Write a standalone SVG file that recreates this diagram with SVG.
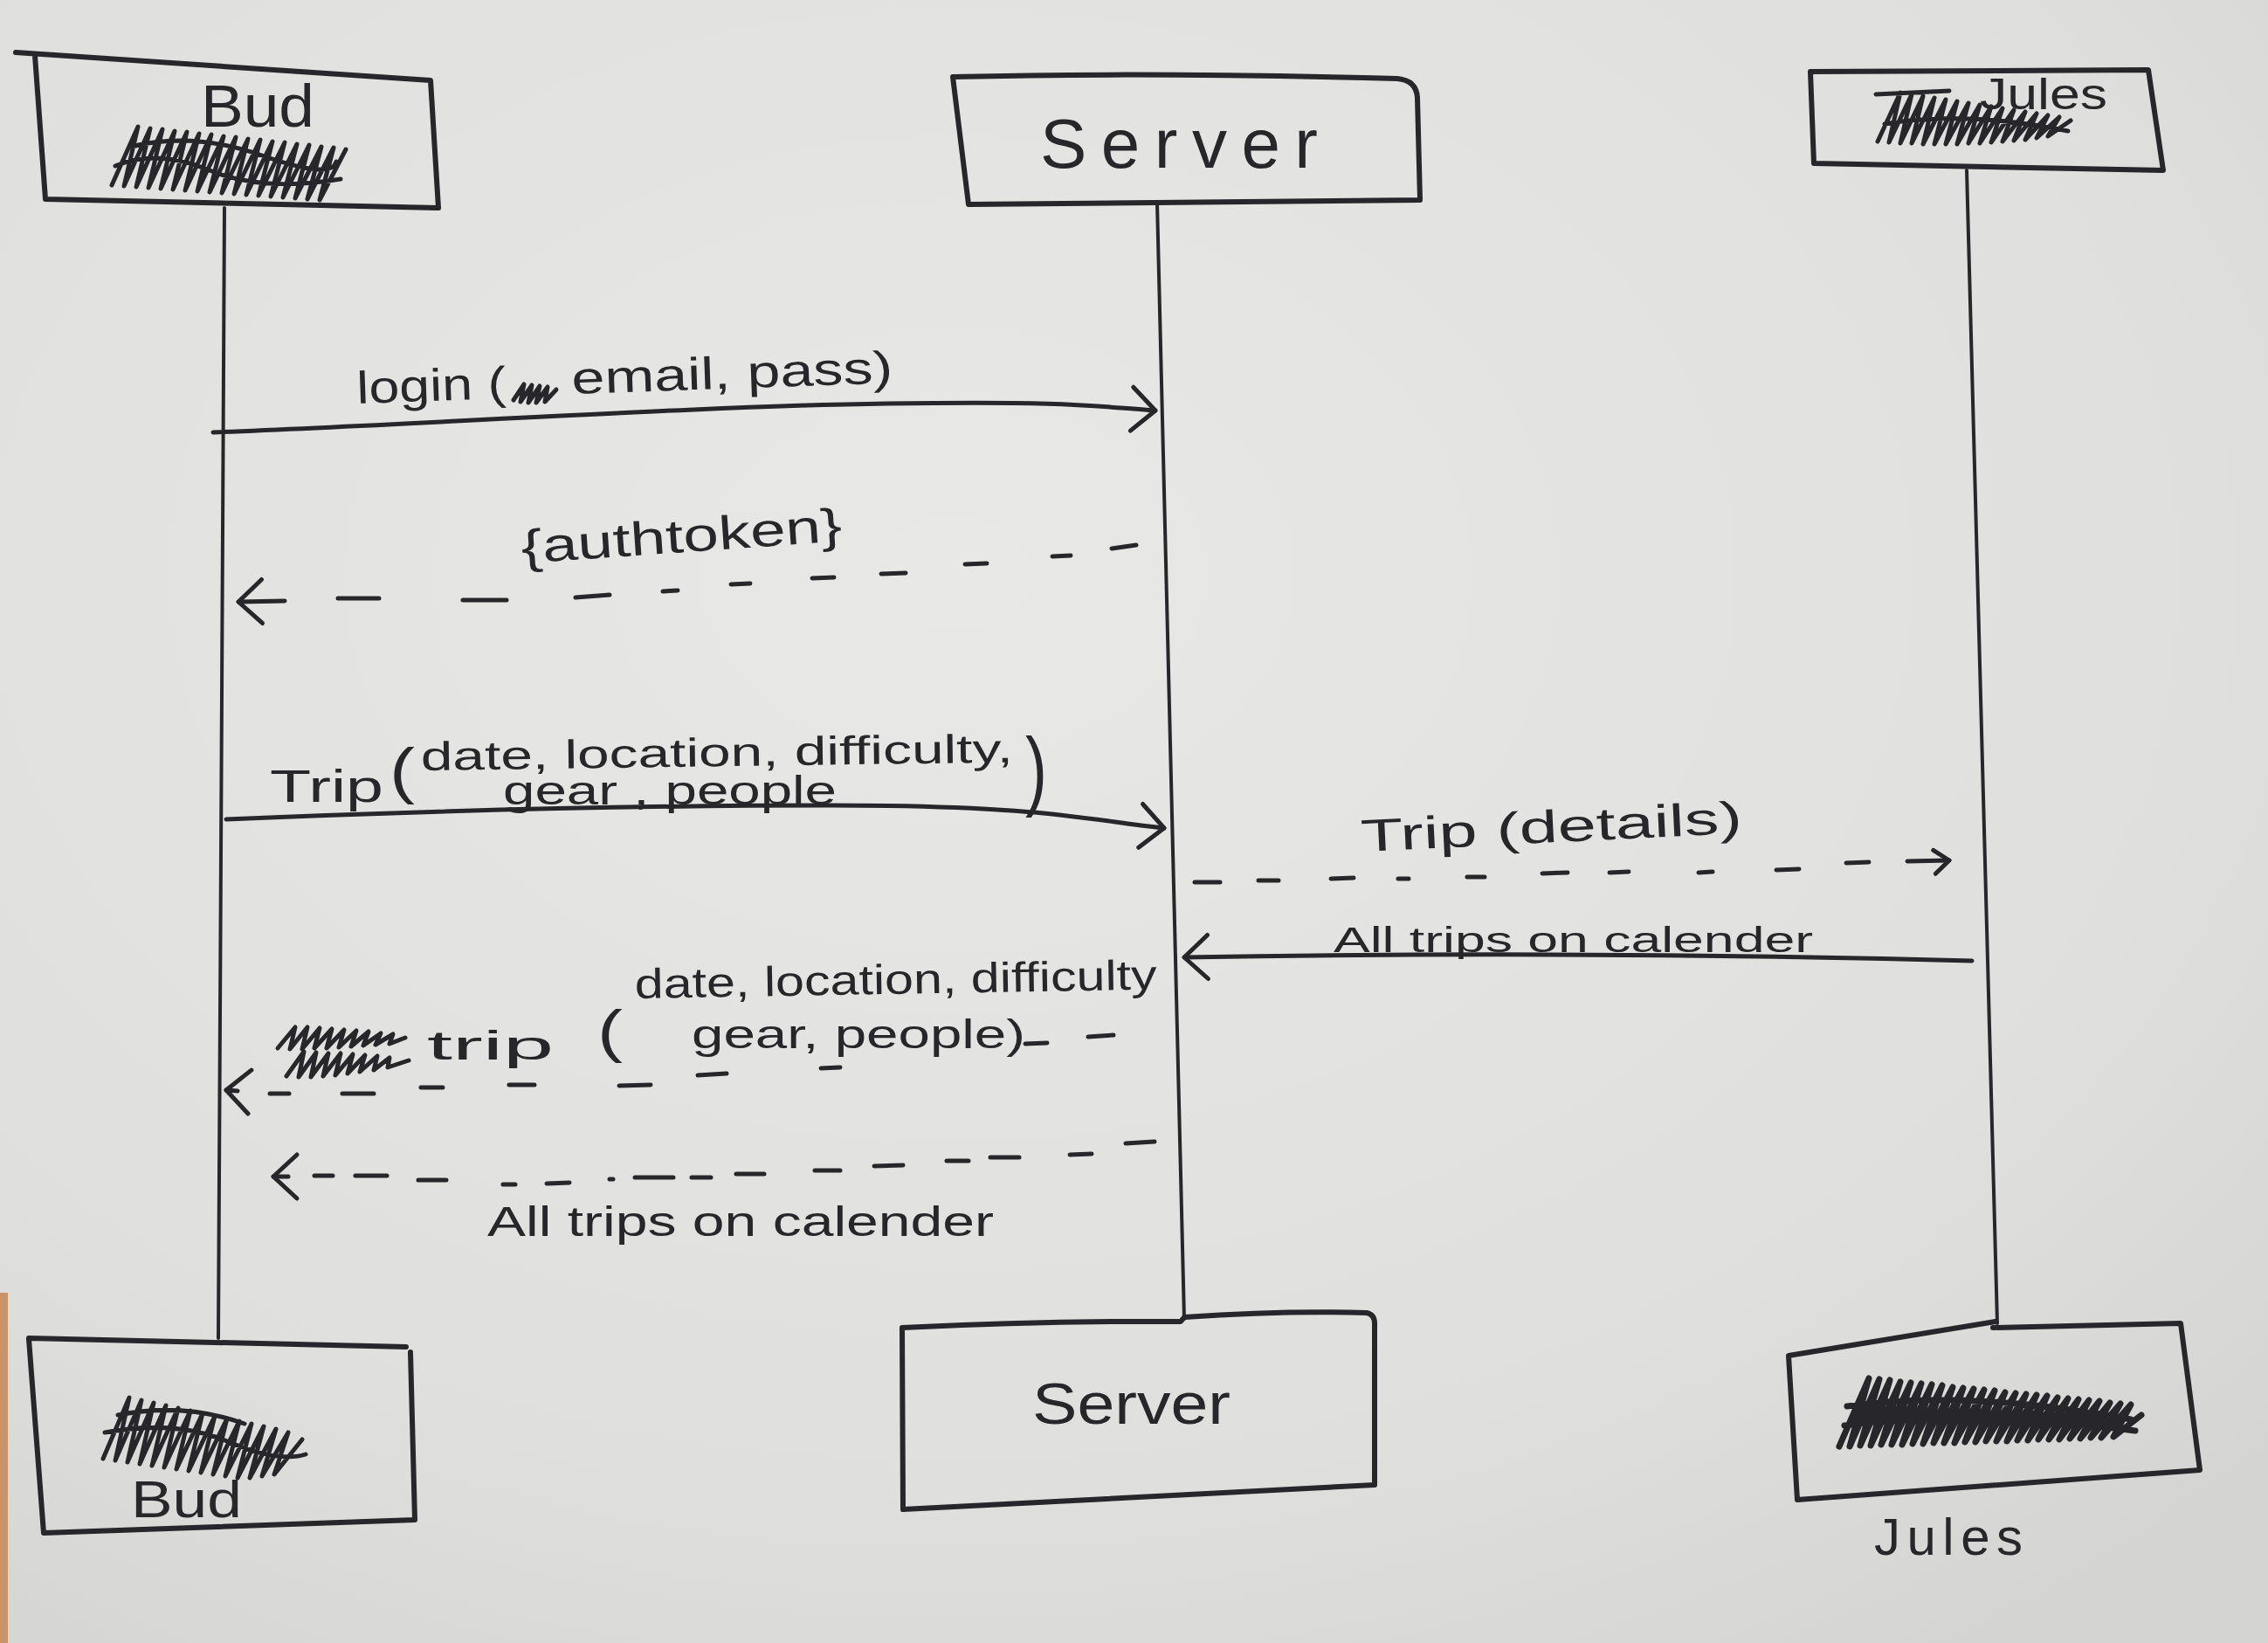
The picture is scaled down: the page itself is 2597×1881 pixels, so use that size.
<svg xmlns="http://www.w3.org/2000/svg" width="2597" height="1881" viewBox="0 0 2597 1881">
<style>
.ink{fill:none;stroke:#27272b;stroke-linecap:round;stroke-linejoin:round}
.box{stroke-width:6}
.life{stroke-width:4}
.conn{stroke-width:5}
.scr{stroke-width:5}
.scr2{stroke-width:7}
.hw{font-family:"Liberation Sans",Arial,sans-serif;fill:#27272b}
</style>
<defs>
<radialGradient id="paper" cx="0.42" cy="0.35" r="0.8">
<stop offset="0" stop-color="#e8e8e6"/>
<stop offset="0.7" stop-color="#dfdfdd"/>
<stop offset="1" stop-color="#d4d4d2"/>
</radialGradient>
<marker id="arr" markerUnits="userSpaceOnUse" markerWidth="70" markerHeight="70" viewBox="-35 -35 70 70" refX="0" refY="0" orient="auto-start-reverse" overflow="visible">
<path d="M-27,-25 L0,0 L-27,25" fill="none" stroke="#27272b" stroke-width="5" stroke-linecap="round" stroke-linejoin="round"/>
</marker>
<marker id="arrSm" markerUnits="userSpaceOnUse" markerWidth="50" markerHeight="50" viewBox="-25 -25 50 50" refX="0" refY="0" orient="auto" overflow="visible">
<path d="M-18,-12 L0,0 L-16,15" fill="none" stroke="#27272b" stroke-width="5" stroke-linecap="round" stroke-linejoin="round"/>
</marker>
</defs>
<rect x="0" y="0" width="2597" height="1881" fill="url(#paper)"/>
<rect x="0" y="1480" width="9" height="401" fill="#c9936b"/>

<g id="connectors">
<path class="ink life" d="M257,238 L250,1532"/>
<path class="ink life" d="M1325,232 L1356,1510"/>
<path class="ink life" d="M2252,195 L2287,1515"/>
<path id="c-login" class="ink conn" d="M244,495 C500,485 800,465 1016,462 S1250,465 1323,470" marker-end="url(#arr)"/>
<path id="c-auth" class="ink conn" d="M273,689 L326,688 M387,685 L434,685 M530,687 L580,687 M659,684 L698,681 M759,677 L776,676 M837,669 L859,668 M930,662 L955,661 M1009,657 L1037,656 M1105,646 L1130,645 M1205,637 L1226,636 M1273,628 L1301,624" marker-start="url(#arr)"/>
<path id="c-trip" class="ink conn" d="M259,938 C450,930 700,922 951,922 S1250,940 1333,948" marker-end="url(#arr)"/>
<path id="c-details" class="ink conn" d="M1368,1010 L1397,1010 M1441,1008 L1464,1008 M1524,1006 L1550,1005 M1601,1006 L1613,1006 M1680,1004 L1700,1004 M1766,1000 L1795,999 M1843,999 L1865,998 M1945,999 L1961,998 M2034,996 L2060,995 M2114,988 L2140,987 M2184,986 L2232,985" marker-end="url(#arrSm)"/>
<path id="c-alltrips-j" class="ink conn" d="M2258,1100 Q1800,1088 1356,1096" marker-end="url(#arr)"/>
<path id="c-trip-back" class="ink conn" d="M259,1248 L272,1249 M309,1252 L331,1252 M392,1252 L428,1252 M482,1245 L507,1245 M583,1242 L612,1242 M709,1243 L745,1242 M799,1231 L832,1229 M940,1223 L962,1222 M1174,1195 L1199,1194 M1246,1187 L1275,1185" marker-start="url(#arr)"/>
<path id="c-alltrips-b" class="ink conn" d="M313,1347 L330,1347 M360,1346 L381,1346 M407,1346 L443,1346 M479,1351 L511,1351 M576,1356 L590,1356 M626,1355 L652,1354 M698,1350 L702,1350 M727,1348 L771,1348 M792,1348 L814,1348 M843,1344 L875,1344 M933,1340 L962,1340 M1001,1335 L1034,1334 M1084,1329 L1109,1329 M1134,1325 L1167,1325 M1225,1322 L1250,1321 M1289,1309 L1322,1307" marker-start="url(#arr)"/>

<g id="l-login">
<text class="hw" x="409" y="462" font-size="52" textLength="171" lengthAdjust="spacingAndGlyphs" transform="rotate(-2 409 462)">login (</text>
<path class="ink scr" d="M588,458 L600,440 L596,460 L609,441 L605,461 L618,442 L614,461 L627,443 L624,460 L637,446"/>
<text class="hw" x="655" y="451" font-size="52" textLength="368" lengthAdjust="spacingAndGlyphs" transform="rotate(-2 655 451)">email, pass)</text>
</g>
<text class="hw" x="598" y="645" font-size="54" textLength="368" lengthAdjust="spacingAndGlyphs" transform="rotate(-4 598 645)">{authtoken}</text>
<g id="l-trip">
<text class="hw" x="309" y="918" font-size="52" textLength="130" lengthAdjust="spacingAndGlyphs">Trip</text>
<text class="hw" x="446" y="906" font-size="70" textLength="29" lengthAdjust="spacingAndGlyphs">(</text>
<text class="hw" x="482" y="882" font-size="46" textLength="678" lengthAdjust="spacingAndGlyphs" transform="rotate(-0.8 482 882)">date, location, difficulty,</text>
<text class="hw" x="576" y="921" font-size="46" textLength="382" lengthAdjust="spacingAndGlyphs">gear , people</text>
<text class="hw" x="1174" y="915" font-size="100" textLength="25" lengthAdjust="spacingAndGlyphs">)</text>
</g>
<text class="hw" x="1559" y="975" font-size="52" textLength="437" lengthAdjust="spacingAndGlyphs" transform="rotate(-2.8 1559 975)">Trip (details)</text>
<text class="hw" x="1527" y="1090" font-size="40" textLength="549" lengthAdjust="spacingAndGlyphs">All trips on calender</text>
<g id="l-trip-back">
<path class="ink scr" d="M318,1200 L338,1176 L332,1201 L352,1176 L346,1201 L366,1177 L360,1200 L380,1178 L374,1200 L394,1179 L388,1199 L408,1180 L402,1198 L422,1181 L416,1197 L436,1183 L430,1196 L450,1184 L446,1195 L464,1188 M328,1232 L348,1204 L342,1233 L362,1205 L356,1233 L376,1206 L370,1232 L390,1206 L384,1231 L404,1207 L398,1229 L418,1208 L412,1227 L432,1209 L428,1225 L446,1211 L444,1222 L468,1214"/>
<text class="hw" x="489" y="1213" font-size="46" textLength="145" lengthAdjust="spacingAndGlyphs">trip</text>
<text class="hw" x="684" y="1203" font-size="66" textLength="29" lengthAdjust="spacingAndGlyphs">(</text>
<text class="hw" x="727" y="1143" font-size="48" textLength="598" lengthAdjust="spacingAndGlyphs" transform="rotate(-1 727 1143)">date, location, difficulty</text>
<text class="hw" x="792" y="1200" font-size="46" textLength="382" lengthAdjust="spacingAndGlyphs">gear, people)</text>
</g>
<text class="hw" x="558" y="1415" font-size="48" textLength="580" lengthAdjust="spacingAndGlyphs">All trips on calender</text>
</g>

<g id="node-bud-top">
<path class="ink box" d="M18,60 C120,66 300,78 493,92 L502,238 L52,228 L40,64"/>
<text class="hw" x="230" y="145" font-size="68" textLength="130" lengthAdjust="spacingAndGlyphs">Bud</text>
<path class="ink scr" d="M128,212 L158,145 L142,213 L172,147 L156,214 L186,148 L170,215 L200,150 L184,216 L214,151 L198,217 L228,153 L212,218 L242,154 L226,219 L256,156 L240,220 L270,157 L254,221 L284,159 L268,222 L298,160 L282,223 L312,162 L296,224 L326,163 L310,225 L340,165 L324,226 L354,166 L338,227 L368,168 L352,228 L382,169 L366,229 L396,171 M132,190 Q180,170 240,195 T390,205 M150,168 Q220,150 300,178 T385,185"/>
</g>
<g id="node-server-top">
<path class="ink box" d="M1091,88 C1250,84 1450,86 1600,90 Q1622,92 1623,112 L1626,229 L1109,234 Z"/>
<text class="hw" x="1191" y="192" font-size="80" textLength="318" lengthAdjust="spacing">Server</text>
</g>
<g id="node-jules-top">
<path class="ink box" d="M2073,82 L2460,80 L2477,195 L2077,187 Z"/>
<text class="hw" x="2267" y="125" font-size="50" textLength="146" lengthAdjust="spacingAndGlyphs">Jules</text>
<path class="ink scr" d="M2148,108 L2232,104 M2150,162 L2176,106 L2163,163 L2189,108 L2176,164 L2202,110 L2189,164 L2215,112 L2202,165 L2228,114 L2215,165 L2241,116 L2228,165 L2254,118 L2241,165 L2267,120 L2254,164 L2280,122 L2267,164 L2293,124 L2280,163 L2306,126 L2293,162 L2319,128 L2306,161 L2332,130 L2319,160 L2345,132 L2332,158 L2358,134 L2345,156 L2371,138 M2158,142 Q2250,126 2368,150"/>
</g>
<g id="node-bud-bottom">
<path class="ink box" d="M33,1532 L465,1542 M470,1548 L475,1740 L50,1755 L33,1533"/>
<path class="ink scr" d="M118,1670 L148,1600 L132,1672 L162,1603 L146,1674 L176,1606 L160,1676 L190,1609 L174,1678 L204,1612 L188,1680 L218,1615 L202,1682 L232,1618 L216,1684 L246,1621 L230,1686 L260,1624 L244,1688 L274,1627 L258,1690 L288,1630 L272,1692 L302,1633 L286,1692 L316,1636 L300,1690 L330,1640 L314,1688 L346,1648 M120,1640 Q200,1625 260,1650 T350,1665 M135,1620 Q210,1605 280,1630"/>
<text class="hw" x="150" y="1737" font-size="60" textLength="127" lengthAdjust="spacingAndGlyphs">Bud</text>
</g>
<g id="node-server-bottom">
<path class="ink box" d="M1033,1520 Q1200,1512 1352,1513 L1356,1508 Q1470,1500 1565,1503 Q1574,1505 1574,1515 L1574,1700 L1034,1728 Z"/>
<text class="hw" x="1182" y="1630" font-size="66" textLength="227" lengthAdjust="spacingAndGlyphs">Server</text>
</g>
<g id="node-jules-bottom">
<path class="ink box" d="M2282,1520 L2497,1515 L2519,1683 L2058,1717 L2048,1552 L2285,1513"/>
<path class="ink scr2" d="M2106,1656 L2140,1578 L2118,1656 L2152,1579 L2130,1655 L2164,1580 L2142,1655 L2176,1582 L2154,1654 L2188,1583 L2166,1654 L2200,1584 L2178,1654 L2212,1585 L2190,1653 L2224,1586 L2202,1653 L2236,1588 L2214,1652 L2248,1589 L2226,1652 L2260,1590 L2238,1652 L2272,1591 L2250,1651 L2284,1592 L2262,1651 L2296,1594 L2274,1650 L2308,1595 L2286,1650 L2320,1596 L2298,1650 L2332,1597 L2310,1649 L2344,1598 L2322,1649 L2356,1600 L2334,1648 L2368,1601 L2346,1648 L2380,1602 L2358,1648 L2392,1603 L2370,1647 L2404,1604 L2382,1647 L2416,1606 L2394,1646 L2428,1607 L2406,1646 L2440,1608 L2420,1645 L2452,1620 M2115,1610 Q2250,1590 2440,1625 M2112,1632 Q2260,1612 2445,1638"/>
<text class="hw" x="2146" y="1780" font-size="60" textLength="170" lengthAdjust="spacing">Jules</text>
</g>
</svg>
